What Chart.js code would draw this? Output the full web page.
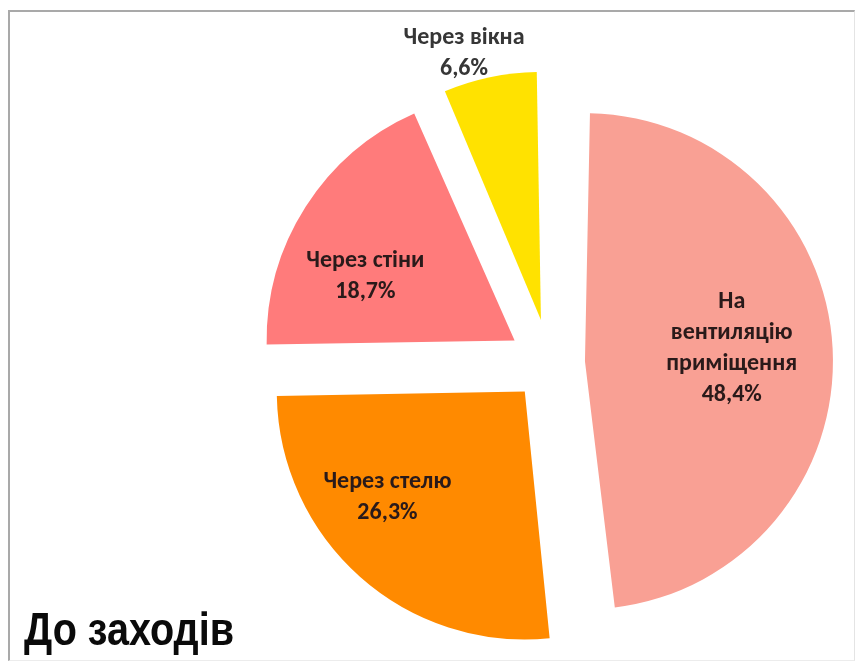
<!DOCTYPE html>
<html>
<head>
<meta charset="utf-8">
<script src="https://cdn.jsdelivr.net/npm/chart.js@4.4.1/dist/chart.umd.min.js"></script>
<style>
  html, body { margin: 0; padding: 0; background: #fff; }
  #wrap { position: relative; width: 856px; height: 661px; }
  #frame {
    position: absolute; left: 8px; top: 10px; width: 844px; height: 648px;
    border-left: 2px solid #a9a9a9; border-top: 2px solid #a9a9a9;
    border-right: 1px solid #e4e4e4; border-bottom: 1px solid #ececec;
    pointer-events: none;
  }
  canvas { position: absolute; left: 0; top: 0; }
</style>
</head>
<body>
<div id="wrap">
  <canvas id="heatLoss" width="856" height="661"></canvas>
  <div id="frame"></div>
</div>
<script>
// Heat loss shares before the measures ("До заходів")
const categories = ['На вентиляцію приміщення', 'Через стелю', 'Через стіни', 'Через вікна'];
const shares = [48.4, 26.3, 18.7, 6.6];
const labelLines = [['На', 'вентиляцію', 'приміщення'], ['Через стелю'], ['Через стіни'], ['Через вікна']];
const chartTitle = 'До заходів';

const sliceColors = ['#F9A094', '#FF8A00', '#FF7B7B', '#FFE200'];
// explode distance of each slice, px (chart.js draws offset / 4)
const explode = [35, 38, 42, 44];
// label placement: fraction of radius from the slice tip, and turn from its mid angle (deg)
const labelRadius = [0.594, 0.70, 0.655, 1.12];
const labelTurn = [-2, 10.7, -9.3, -4.2];

const fmt = v => v.toFixed(1).replace('.', ',') + '%';

// keep exploded slices the same size (chart.js grows thin slices when offset)
const sameRadius = {
  id: 'sameRadius',
  beforeDatasetsDraw(chart) {
    const meta = chart.getDatasetMeta(0);
    const base = meta.controller.outerRadius;
    meta.data.forEach(arc => {
      const d = (arc.options.offset || 0) / 4;
      const fix = 1 - Math.sin(Math.min(Math.PI, arc.circumference || 0));
      arc.outerRadius = base - d * fix;
    });
  }
};

const sliceLabels = {
  id: 'sliceLabels',
  afterDatasetsDraw(chart) {
    const ctx = chart.ctx;
    const meta = chart.getDatasetMeta(0);
    const R = meta.controller.outerRadius;
    ctx.save();
    ctx.font = 'bold 24px Carlito, Lato, sans-serif';
    ctx.textAlign = 'center';
    ctx.textBaseline = 'middle';
    meta.data.forEach((arc, i) => {
      const mid = (arc.startAngle + arc.endAngle) / 2;
      const d = (arc.options.offset || 0) / 4;
      const tipX = arc.x + Math.cos(mid) * d;
      const tipY = arc.y + Math.sin(mid) * d;
      const a = mid + labelTurn[i] * Math.PI / 180;
      const cx = tipX + Math.cos(a) * R * labelRadius[i];
      const cy = tipY + Math.sin(a) * R * labelRadius[i];
      const lines = labelLines[i].concat([fmt(shares[i])]);
      const step = 31;
      ctx.fillStyle = i === 3 ? '#363636' : '#2a1a1a';
      lines.forEach((t, k) => {
        ctx.fillText(t, cx, cy + (k - (lines.length - 1) / 2) * step);
      });
    });
    ctx.restore();
  }
};

const cornerTitle = {
  id: 'cornerTitle',
  afterDraw(chart) {
    const ctx = chart.ctx;
    ctx.save();
    ctx.font = 'bold 46px "Liberation Sans", Arial, sans-serif';
    ctx.fillStyle = '#0a0a0a';
    ctx.textBaseline = 'alphabetic';
    ctx.translate(24, 645);
    ctx.scale(0.86, 1);
    ctx.fillText(chartTitle, 0, 0);
    ctx.restore();
  }
};

new Chart(document.getElementById('heatLoss'), {
  type: 'pie',
  data: {
    labels: categories,
    datasets: [{
      data: shares,
      backgroundColor: sliceColors,
      borderWidth: 0,
      offset: explode.map(d => d * 4)
    }]
  },
  options: {
    responsive: false,
    animation: false,
    devicePixelRatio: 1,
    radius: 248,
    layout: { padding: { left: 270, right: 26, top: 83, bottom: 18 } },
    plugins: {
      legend: { display: false },
      tooltip: { enabled: false }
    }
  },
  plugins: [sameRadius, sliceLabels, cornerTitle]
});
</script>
</body>
</html>
